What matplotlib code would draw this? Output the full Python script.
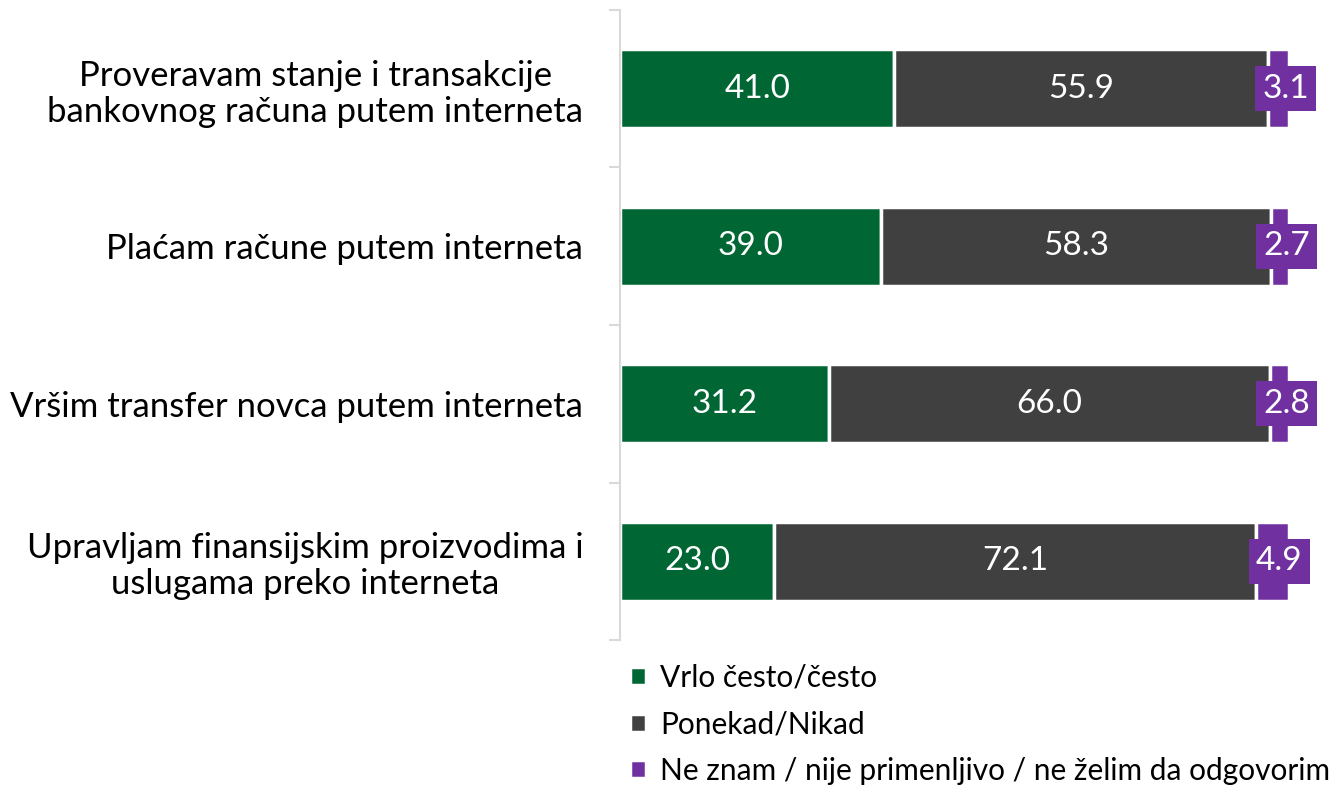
import matplotlib.pyplot as plt
import numpy as np

categories = [
    "Proveravam stanje i transakcije\nbankovnog računa putem interneta",
    "Plaćam račune putem interneta",
    "Vršim transfer novca putem interneta",
    "Upravljam finansijskim proizvodima i\nuslugama preko interneta",
]
often = [41.0, 39.0, 31.2, 23.0]
sometimes = [55.9, 58.3, 66.0, 72.1]
unknown = [3.1, 2.7, 2.8, 4.9]

series_names = ["Vrlo često/često", "Ponekad/Nikad",
                "Ne znam / nije primenljivo / ne želim da odgovorim"]
colors = ["#006633", "#404040", "#7030A0"]

plt.rcParams['font.family'] = ['Lato', 'DejaVu Sans']

fig = plt.figure(figsize=(13.29, 7.85), dpi=100)
ax = fig.add_axes([0.4665, 0.1847, 0.5035, 0.8026])

y = np.arange(len(categories))
left = np.zeros(len(categories))
for vals, name, col in zip([often, sometimes, unknown], series_names, colors):
    vals = np.array(vals)
    ax.barh(y, vals, left=left, height=0.5, color=col,
            edgecolor="white", linewidth=2.5, label=name)
    for yi, l, v in zip(y, left, vals):
        cx = l + v / 2
        if col == colors[2]:
            ax.text(cx + 1.0, yi, f"{v:.1f}", ha="center", va="center",
                    color="white", fontsize=24,
                    bbox=dict(boxstyle="square,pad=0.22", fc=col, ec="none"))
        else:
            ax.text(cx, yi, f"{v:.1f}", ha="center", va="center",
                    color="white", fontsize=24)
    left += vals

ax.set_xlim(0, 100)
ax.set_ylim(3.5, -0.5)
ax.set_yticks(y)
ax.set_yticklabels(categories, fontsize=25, ha="right",
                   multialignment="center", linespacing=1.15)
ax.tick_params(axis="y", which="major", length=0, pad=26.5)
ax.set_yticks(np.arange(-0.5, 4.0, 1.0), minor=True)
ax.tick_params(axis="y", which="minor", length=8, color="#D9D9D9", width=1.5)
ax.set_xticks([])
for s in ["top", "right", "bottom"]:
    ax.spines[s].set_visible(False)
ax.spines["left"].set_color("#D9D9D9")
ax.spines["left"].set_linewidth(1.5)

handles, labels = ax.get_legend_handles_labels()
fig.legend(handles, labels, loc="upper left", bbox_to_anchor=(0.474, 0.155),
           frameon=False, fontsize=21.5, handlelength=0.55, handleheight=0.55,
           handletextpad=0.45, labelspacing=0.63, borderaxespad=0,
           borderpad=0)

fig.savefig("out.png", dpi=100)
